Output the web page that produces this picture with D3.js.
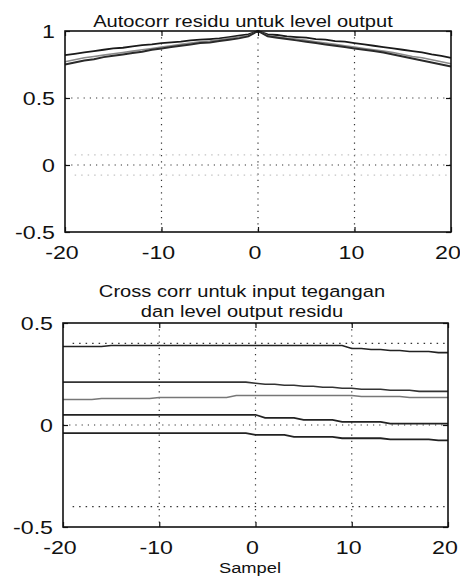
<!DOCTYPE html>
<html>
<head>
<meta charset="utf-8">
<script src="https://cdn.jsdelivr.net/npm/d3@7"></script>
<style>
  body { margin: 0; background: #fff; }
  svg { display: block; }
  text { font-family: "Liberation Sans", Arial, sans-serif; fill: #111; }
</style>
</head>
<body>
<div id="chart"></div>
<script>
// lags -20..20
const lags = d3.range(-20, 21)

// autocorrelation of output residuals (3 runs)
const autoA = [0.82, 0.83, 0.84, 0.85, 0.86, 0.87, 0.875, 0.885, 0.895, 0.90, 0.91, 0.915, 0.92, 0.93, 0.935, 0.94, 0.945, 0.955, 0.965, 0.975, 1.00,
  0.975, 0.97, 0.96, 0.955, 0.95, 0.94, 0.935, 0.925, 0.92, 0.91, 0.90, 0.89, 0.88, 0.87, 0.86, 0.85, 0.84, 0.825, 0.815, 0.80]
const autoB = [0.77, 0.785, 0.80, 0.81, 0.82, 0.83, 0.84, 0.85, 0.86, 0.87, 0.88, 0.89, 0.90, 0.91, 0.92, 0.925, 0.935, 0.945, 0.955, 0.965, 1.00,
  0.965, 0.955, 0.945, 0.94, 0.93, 0.92, 0.91, 0.90, 0.89, 0.88, 0.87, 0.86, 0.85, 0.84, 0.825, 0.81, 0.80, 0.785, 0.77, 0.755]
const autoC = [0.75, 0.765, 0.78, 0.79, 0.805, 0.815, 0.825, 0.835, 0.845, 0.86, 0.87, 0.88, 0.89, 0.90, 0.91, 0.915, 0.925, 0.935, 0.945, 0.96, 1.00,
  0.96, 0.95, 0.94, 0.93, 0.92, 0.91, 0.90, 0.89, 0.88, 0.87, 0.86, 0.85, 0.84, 0.825, 0.81, 0.795, 0.78, 0.765, 0.75, 0.735]
const autoBound = 0.075

// cross correlation input voltage vs output residuals
const crossA = [0.385, 0.385, 0.385, 0.385, 0.385,
  0.39, 0.39, 0.39, 0.39, 0.39, 0.39, 0.39, 0.39, 0.39, 0.39, 0.39, 0.39, 0.39, 0.39, 0.39, 0.39, 0.39, 0.39, 0.39, 0.39, 0.39, 0.39, 0.39, 0.39, 0.39,
  0.375, 0.375, 0.37, 0.37, 0.365, 0.365, 0.36, 0.36, 0.36, 0.355, 0.355]
const crossB = [0.21, 0.21, 0.21, 0.21, 0.21, 0.21, 0.21, 0.21, 0.21, 0.21, 0.21, 0.21, 0.21, 0.21, 0.21, 0.21, 0.21, 0.21, 0.21, 0.21,
  0.205, 0.20, 0.20, 0.195, 0.195, 0.19, 0.19, 0.185, 0.185, 0.18,
  0.18, 0.175, 0.175, 0.175, 0.17, 0.17, 0.17, 0.165, 0.165, 0.165, 0.165]
const crossC = [0.125, 0.125, 0.125, 0.125, 0.13, 0.13, 0.13, 0.13, 0.13, 0.13,
  0.135, 0.135, 0.135, 0.135, 0.135, 0.135, 0.135, 0.135,
  0.145, 0.145, 0.145, 0.145, 0.145, 0.145, 0.145, 0.145, 0.145, 0.145, 0.145, 0.145, 0.145,
  0.14, 0.14, 0.14, 0.14, 0.14, 0.135, 0.135, 0.135, 0.135, 0.135]
const crossD = [0.05, 0.05, 0.05, 0.05, 0.05, 0.05, 0.05, 0.05, 0.05, 0.05, 0.05, 0.05, 0.05, 0.05, 0.05, 0.05, 0.05, 0.05, 0.05, 0.05, 0.05,
  0.035, 0.035, 0.035, 0.035, 0.025, 0.025, 0.025, 0.025,
  0.015, 0.015, 0.015, 0.015, 0.015, 0.007, 0.007, 0.007, 0.007, 0.007, 0.007, 0.007]
const crossE = [-0.04, -0.04, -0.04, -0.04, -0.04, -0.04, -0.04, -0.04, -0.04, -0.04, -0.04, -0.04, -0.04, -0.04, -0.04, -0.04, -0.04, -0.04, -0.04, -0.04,
  -0.048, -0.048, -0.048, -0.048, -0.058, -0.058, -0.058, -0.058, -0.058,
  -0.065, -0.065, -0.065, -0.065, -0.065, -0.07, -0.07, -0.07, -0.07, -0.07, -0.075, -0.075]
const crossBound = 0.40

const xTicks = [-20, -10, 0, 10, 20]
const autoYTicks = [-0.5, 0, 0.5, 1]
const crossYTicks = [-0.5, 0, 0.5]

const W = 460, H = 578
const SX = 1.22   // scanned text is wider than the font

const svg = d3.select("#chart").append("svg")
  .attr("width", W)
  .attr("height", H)

function label(x, y, str, size, anchor){
  svg.append("g")
    .attr("transform", "translate(" + [x, y] + ") scale(" + SX + ",1)")
    .append("text")
    .attr("text-anchor", anchor || "middle")
    .style("font-size", size + "px")
    .text(str)
}

function drawPanel(cfg){
  const x = d3.scaleLinear().domain([-20, 20]).range([cfg.left, cfg.right])
  const y = d3.scaleLinear().domain(cfg.yDomain).range([cfg.bottom, cfg.top])
  const g = svg.append("g")

  // dotted grid
  const grid = g.append("g")
    .attr("stroke", "#333")
    .attr("stroke-width", 1.2)
    .attr("stroke-dasharray", "1.2,5")
  grid.selectAll(".gx").data(xTicks.slice(1, -1)).enter().append("line")
    .attr("x1", d => x(d)).attr("x2", d => x(d))
    .attr("y1", cfg.top).attr("y2", cfg.bottom)
  grid.selectAll(".gy").data(cfg.yTicks.filter(d => d > cfg.yDomain[0] && d < cfg.yDomain[1])).enter().append("line")
    .attr("x1", cfg.left).attr("x2", cfg.right)
    .attr("y1", d => y(d)).attr("y2", d => y(d))

  // confidence bounds
  g.append("g").selectAll("line").data([cfg.bound, -cfg.bound]).enter().append("line")
    .attr("x1", x(-19)).attr("x2", x(20))
    .attr("y1", d => y(d)).attr("y2", d => y(d))
    .attr("stroke", cfg.boundColor)
    .attr("stroke-width", 1.2)
    .attr("stroke-dasharray", "1.5,5")

  const line = d3.line().x((d, i) => x(lags[i])).y(d => y(d))
  g.append("g").selectAll("path").data(cfg.series).enter().append("path")
    .attr("d", d => line(d.values))
    .attr("fill", "none")
    .attr("stroke", d => d.color)
    .attr("stroke-width", d => d.width)

  // axes, ticks inside like matlab
  const bottomAxis = d3.axisBottom(x).tickValues(xTicks).tickSize(-5).tickFormat("")
  const topAxis = d3.axisTop(x).tickValues(xTicks).tickSize(-5).tickFormat("")
  const leftAxis = d3.axisLeft(y).tickValues(cfg.yTicks).tickSize(-5).tickFormat("")
  const rightAxis = d3.axisRight(y).tickValues(cfg.yTicks).tickSize(-5).tickFormat("")
  ;[[bottomAxis, [0, cfg.bottom]], [topAxis, [0, cfg.top]], [leftAxis, [cfg.left, 0]], [rightAxis, [cfg.right, 0]]]
    .forEach(a => {
      const ax = g.append("g").attr("transform", "translate(" + a[1] + ")").call(a[0])
      ax.select(".domain").remove()
      ax.selectAll("line").attr("stroke", "#111").attr("stroke-width", 1.2)
    })

  g.append("rect")
    .attr("x", cfg.left).attr("y", cfg.top)
    .attr("width", cfg.right - cfg.left).attr("height", cfg.bottom - cfg.top)
    .attr("fill", "none")
    .attr("stroke", "#111")
    .attr("stroke-width", 1.6)

  xTicks.forEach(t => label(x(t) - 3, cfg.bottom + 27, t, 19))
  cfg.yTicks.forEach(t => label(cfg.left - 10, y(t) + 7, t, 19, "end"))

  cfg.title.forEach((t, i) => label(cfg.titleX, cfg.titleY + i * 20, t, 16.5))
}

drawPanel({
  left: 65, right: 451, top: 31, bottom: 232,
  yDomain: [-0.5, 1], yTicks: autoYTicks,
  bound: autoBound, boundColor: "#c4c4c4",
  series: [
    {values: autoA, color: "#1a1a1a", width: 1.8},
    {values: autoB, color: "#8a8a8a", width: 1.6},
    {values: autoC, color: "#2a2a2a", width: 2}
  ],
  title: ["Autocorr residu untuk level output"],
  titleX: 243, titleY: 27
})

drawPanel({
  left: 63, right: 448, top: 323, bottom: 527,
  yDomain: [-0.5, 0.5], yTicks: crossYTicks,
  bound: crossBound, boundColor: "#333",
  series: [
    {values: crossA, color: "#222", width: 1.6},
    {values: crossB, color: "#333", width: 1.6},
    {values: crossC, color: "#777", width: 1.5},
    {values: crossD, color: "#222", width: 1.7},
    {values: crossE, color: "#222", width: 1.8}
  ],
  title: ["Cross corr untuk input tegangan", "dan level output residu"],
  titleX: 242, titleY: 297
})

label(250, 573, "Sampel", 15)
</script>
</body>
</html>
